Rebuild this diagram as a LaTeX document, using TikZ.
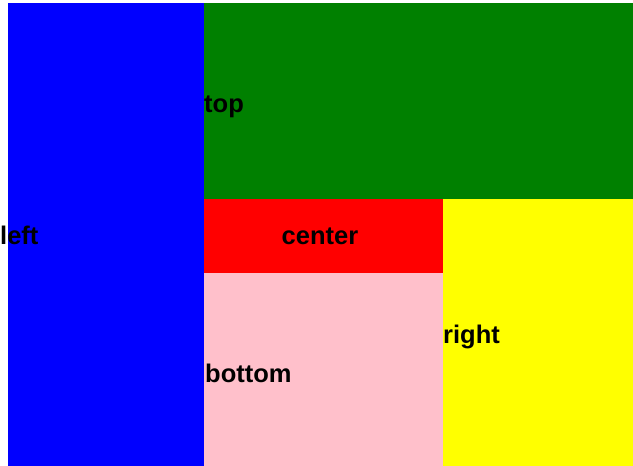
\documentclass[tikz,border=0pt]{standalone}
\usepackage{fontspec}
\setmainfont{Liberation Sans}
\usepackage{tikz}
\usetikzlibrary{positioning}

\definecolor{areablue}{RGB}{0,0,255}
\definecolor{areagreen}{RGB}{0,128,0}
\definecolor{areared}{RGB}{255,0,0}
\definecolor{areapink}{RGB}{255,192,203}
\definecolor{areayellow}{RGB}{255,255,0}

\begin{document}
\begin{tikzpicture}[
  x=1pt, y=-1pt,
  area/.style={rectangle, inner sep=0pt, outer sep=0pt, anchor=north west},
  lbl/.style={font=\bfseries\fontsize{25.5}{28}\selectfont, inner sep=0pt, anchor=base west},
]
\useasboundingbox[fill=white] (0,0) rectangle (633,466);

% the five regions
\node[area, fill=areablue, minimum width=196pt, minimum height=463pt] (leftbox) at (8,3) {};
\node[area, fill=areagreen, minimum width=429pt, minimum height=196pt] (topbox) at (204,3) {};
\node[area, fill=areared, minimum width=239pt, minimum height=74pt] (centerbox) at (204,199) {};
\node[area, fill=areapink, minimum width=239pt, minimum height=193pt] (bottombox) at (204,273) {};
\node[area, fill=areayellow, minimum width=190pt, minimum height=267pt] (rightbox) at (443,199) {};

% labels
\node[lbl] (lefttext) at (0,244) {left};
\node[lbl] (toptext) at (204,112) {top};
\node[lbl, anchor=base] (centertext) at (320,244) {center};
\node[lbl] (righttext) at (443,343) {right};
\node[lbl] (bottomtext) at (205,382) {bottom};
\end{tikzpicture}
\end{document}
